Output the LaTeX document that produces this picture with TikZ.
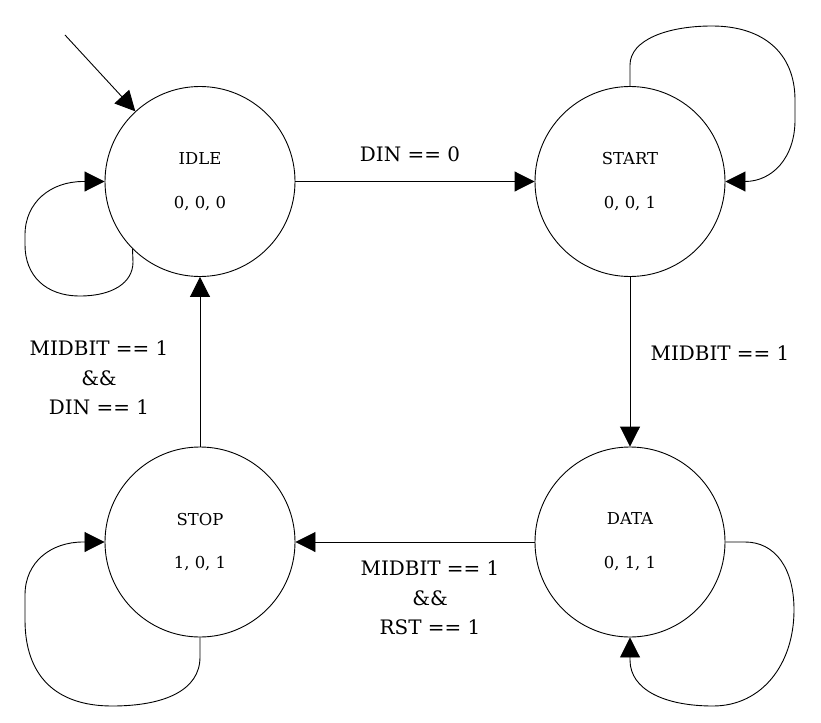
\documentclass[tikz,border=0pt]{standalone}
\usepackage{fontspec}
\setmainfont{DejaVu Serif}
\usetikzlibrary{arrows.meta}
\tikzset{
  state/.style={draw, circle, minimum size=190bp, inner sep=0pt, line width=0.9bp, align=center, font=\fontsize{16.5}{44}\selectfont},
  arr/.style={line width=0.9bp, -{Triangle[length=20bp,width=20bp]}},
  lbl/.style={align=center, font=\fontsize{20}{29.5}\selectfont, inner sep=0pt}
}
\begin{document}
\begin{tikzpicture}[x=1bp,y=-1bp]
\useasboundingbox (0,0) rectangle (821,723);
\node[state] (idle) at (200,181.5) {IDLE\\0, 0, 0};
\node[state] (start) at (630,181.5) {START\\0, 0, 1};
\node[state] (stop) at (200,542) {STOP\\1, 0, 1};
\node[state] (data) at (630,542) {DATA\\0, 1, 1};
\coordinate (init) at (65,35);
\draw[arr] (init) -- (idle);
\draw[arr] (idle) -- (start);
\draw[arr] (start) -- (data);
\draw[arr] (data) -- (stop);
\draw[arr] (stop) -- (idle);
% self loops
\draw[arr] (idle.225) -- (133,262) .. controls (133,283) and (112,296) .. (80,296)
  .. controls (45,296) and (25,275) .. (25,245) -- (25,235)
  .. controls (25,202) and (51,181.5) .. (83,181.5) -- (idle.west);
\draw[arr] (start.north) -- (630,65) .. controls (630,40) and (667,26) .. (712,26)
  .. controls (762,26) and (795,52) .. (795,100) -- (795,120)
  .. controls (795,158) and (772,181.5) .. (745,181.5) -- (start.east);
\draw[arr] (data.east) -- (745,542) .. controls (775,542) and (794,568) .. (794,610)
  .. controls (794,664) and (762,706) .. (713,706)
  .. controls (665,706) and (630,690) .. (630,660) -- (data.south);
\draw[arr] (stop.south) -- (200,657) .. controls (200,690) and (165,706) .. (112,706)
  .. controls (55,706) and (25,675) .. (25,620) -- (25,595)
  .. controls (25,562) and (51,542) .. (83,542) -- (stop.west);
% labels
\node[lbl] (l1) at (410,154) {DIN == 0};
\node[lbl] (l2) at (720,353) {MIDBIT == 1};
\node[lbl] (l3) at (99,378) {MIDBIT == 1\\\&\&\\DIN == 1};
\node[lbl] (l4) at (430,598) {MIDBIT == 1\\\&\&\\RST == 1};
\end{tikzpicture}
\end{document}
